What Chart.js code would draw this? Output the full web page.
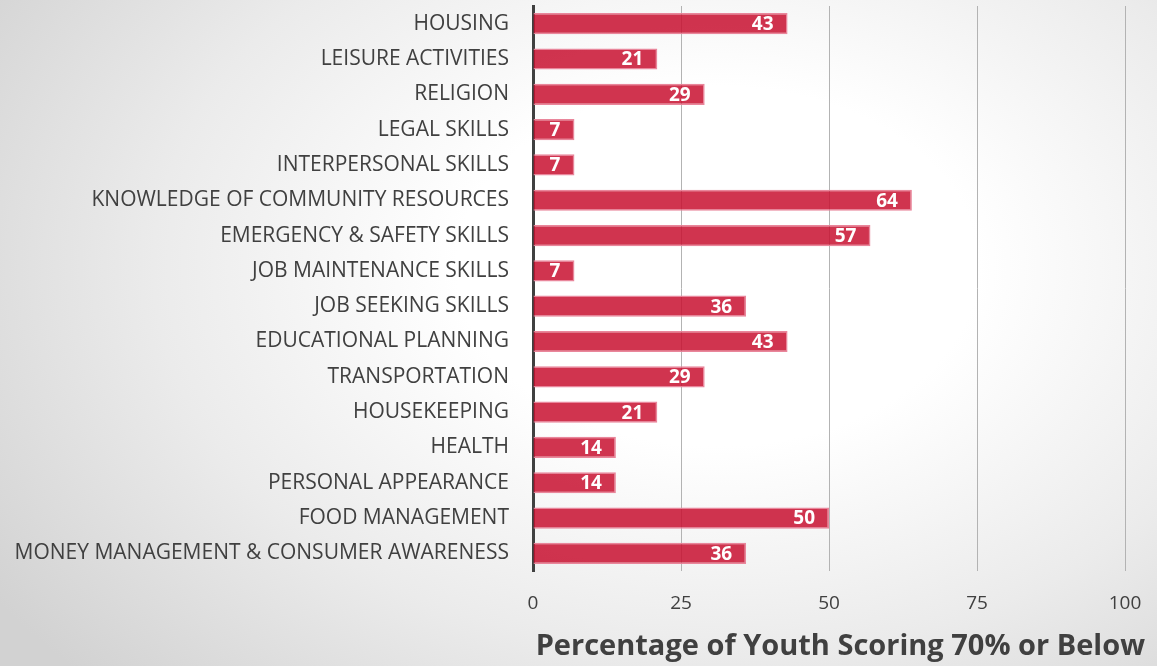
<!DOCTYPE html>
<html>
<head>
<meta charset="utf-8">
<script src="https://cdn.jsdelivr.net/npm/chart.js@4/dist/chart.umd.min.js"></script>
<style>
    html, body { margin: 0; padding: 0; }
    body {
        width: 1157px; height: 666px; overflow: hidden;
        background: radial-gradient(ellipse 75% 90% at 62% 40%, #ffffff 0%, #ffffff 30%, #ebebeb 65%, #d2d2d2 100%);
    }
    #wrap { position: relative; width: 1157px; height: 666px; }
</style>
</head>
<body>
<div id="wrap"><canvas id="chartSkills" width="1157" height="666"></canvas></div>
<script>
var categorias = [
    'HOUSING', 'LEISURE ACTIVITIES', 'RELIGION', 'LEGAL SKILLS', 'INTERPERSONAL SKILLS',
    'KNOWLEDGE OF COMMUNITY RESOURCES', 'EMERGENCY & SAFETY SKILLS', 'JOB MAINTENANCE SKILLS',
    'JOB SEEKING SKILLS', 'EDUCATIONAL PLANNING', 'TRANSPORTATION', 'HOUSEKEEPING', 'HEALTH',
    'PERSONAL APPEARANCE', 'FOOD MANAGEMENT', 'MONEY MANAGEMENT & CONSUMER AWARENESS'
];
var porcentajes = [43, 21, 29, 7, 7, 64, 57, 7, 36, 43, 29, 21, 14, 14, 50, 36];
var ticksX = [0, 25, 50, 75, 100];
var tituloX = 'Percentage of Youth Scoring 70% or Below';

var fuente = '"Open Sans", "Liberation Sans", sans-serif';
var gris = '#404040';

// white value text at the inner end of each bar
var etiquetas = {
    id: 'etiquetas',
    afterDatasetsDraw: function (chart) {
        var ctx = chart.ctx;
        var meta = chart.getDatasetMeta(0);
        ctx.save();
        ctx.font = 'bold 19px ' + fuente;
        ctx.fillStyle = '#ffffff';
        ctx.textAlign = 'right';
        ctx.textBaseline = 'middle';
        meta.data.forEach(function (bar, i) {
            ctx.fillText(String(porcentajes[i]), bar.x - 14, bar.y + 1);
        });
        ctx.restore();
    }
};

// axis title, shifted a bit right of the plot centre
var titulo = {
    id: 'titulo',
    afterDraw: function (chart) {
        var ctx = chart.ctx;
        ctx.save();
        ctx.font = 'bold 29px ' + fuente;
        ctx.fillStyle = gris;
        ctx.textAlign = 'right';
        ctx.textBaseline = 'middle';
        ctx.fillText(tituloX, chart.chartArea.right + 20, 647);
        ctx.restore();
    }
};

new Chart(document.getElementById('chartSkills'), {
    type: 'bar',
    data: {
        labels: categorias,
        datasets: [{
            label: tituloX,
            data: porcentajes,
            backgroundColor: 'rgba(200,16,48,0.85)',
            borderColor: 'rgba(232,128,150,0.95)',
            borderWidth: 1.5,
            borderSkipped: 'left',
            barPercentage: 0.6,
            categoryPercentage: 1
        }]
    },
    options: {
        indexAxis: 'y',
        responsive: false,
        animation: false,
        devicePixelRatio: 1,
        layout: { padding: { top: 6, right: 0, left: 0, bottom: 0 } },
        plugins: {
            legend: { display: false },
            tooltip: { enabled: false }
        },
        scales: {
            x: {
                min: 0,
                max: 100,
                afterBuildTicks: function (s) { s.ticks = ticksX.map(function (v) { return { value: v }; }); },
                afterFit: function (s) {
                    s.height = 95;
                    s.paddingLeft = 0;
                    s.paddingRight = 32;
                },
                grid: {
                    color: function (c) { return c.tick && c.tick.value === 0 ? 'rgba(0,0,0,0)' : '#b3b3b3'; },
                    lineWidth: 1,
                    drawTicks: false
                },
                border: { display: false },
                ticks: { color: gris, font: { family: fuente, size: 19 }, padding: 21 }
            },
            y: {
                afterFit: function (s) {
                    s.width = 533;
                    s.paddingTop = 0;
                    s.paddingBottom = 0;
                },
                grid: { display: false },
                border: { display: true, color: gris, width: 3 },
                ticks: { color: gris, font: { family: fuente, size: 21 }, padding: 16, autoSkip: false }
            }
        }
    },
    plugins: [etiquetas, titulo]
});
</script>
</body>
</html>
